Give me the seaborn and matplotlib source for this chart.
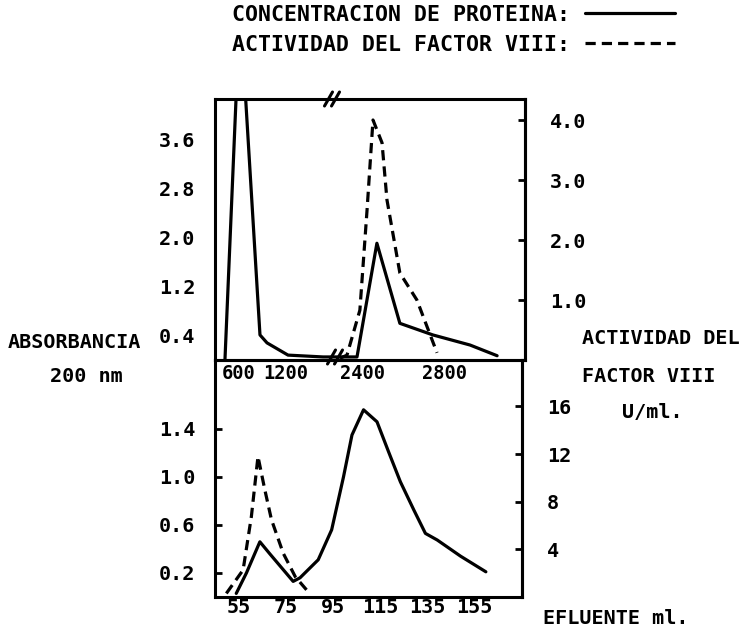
import seaborn as sns
import numpy as np
import matplotlib.pyplot as plt
from matplotlib.ticker import FormatStrFormatter

# upper panel: effluent (ml) on a broken axis
prot_top_left_ml = [421, 613, 868, 958, 1226, 1673, 1800]
prot_top_left_abs = [0.0, 5.8, 0.41, 0.28, 0.08, 0.05, 0.05]
prot_top_right_ml = [2254, 2302, 2371, 2468, 2580, 2741, 2922, 3054]
prot_top_right_abs = [0.05, 0.05, 0.05, 1.91, 0.6, 0.41, 0.245, 0.07]
f8_top_ml = [2288, 2322, 2385, 2420, 2449, 2493, 2517, 2580, 2663, 2761]
f8_top_act = [0.03, 0.08, 0.83, 2.5, 4.0, 3.62, 2.67, 1.45, 1.0, 0.12]

# lower panel
prot_bot_ml = [54, 58.3, 64, 68.2, 78.1, 81, 88.7, 94.4, 99.4, 103, 107.9,
               113.6, 118.5, 123.5, 129.2, 134.1, 139.1, 149, 159.7]
prot_bot_abs = [0.03, 0.2, 0.46, 0.36, 0.13, 0.16, 0.31, 0.56, 1.0, 1.35, 1.56,
                1.46, 1.21, 0.96, 0.725, 0.53, 0.475, 0.34, 0.21]
f8_bot_ml = [49.8, 56.9, 60.4, 63.2, 66.1, 68.9, 73.9, 79, 83.8]
f8_bot_act = [0.3, 2.27, 6.75, 11.8, 9.0, 6.5, 3.67, 1.7, 0.59]

top_left_xticks = [600, 1200]
top_right_xticks = [2400, 2800]
top_abs_ticks = [0.4, 1.2, 2.0, 2.8, 3.6]
top_act_ticks = [1.0, 2.0, 3.0, 4.0]
bot_xticks = [55, 75, 95, 115, 135, 155]
bot_abs_ticks = [0.2, 0.6, 1.0, 1.4]
bot_act_ticks = [4, 8, 12, 16]

sns.set_style("white")
plt.rcParams['font.family'] = ['DejaVu Sans Mono']
plt.rcParams['font.weight'] = 'bold'
plt.rcParams['text.color'] = 'black'
plt.rcParams['xtick.color'] = 'black'
plt.rcParams['ytick.color'] = 'black'
FS = 14.5
LW = 2.3
DASH = (0, (3.2, 1.9))

W, H = 750, 631
fig = plt.figure(figsize=(W / 100, H / 100), dpi=100)
fig.patch.set_facecolor('white')


def box(l, t, r, b):
    return [l / W, 1 - b / H, (r - l) / W, (b - t) / H]


ax_b = fig.add_axes(box(215, 360, 522, 597))
ax_b2 = ax_b.twinx()
ax_tl = fig.add_axes(box(215, 99, 333, 360))
ax_tr = fig.add_axes(box(333, 99, 525, 360))
ax_tr2 = ax_tr.twinx()

for a in [ax_b, ax_b2, ax_tl, ax_tr, ax_tr2]:
    a.patch.set_visible(False)
    for s in a.spines.values():
        s.set_linewidth(2.2)
        s.set_color('black')
    a.tick_params(direction='in', length=5, width=2, labelsize=FS,
                  colors='black', labelcolor='black')

# upper panel curves
sns.lineplot(x=prot_top_left_ml, y=prot_top_left_abs, ax=ax_tl, color='black',
             lw=LW, sort=False, estimator=None)
sns.lineplot(x=prot_top_right_ml, y=prot_top_right_abs, ax=ax_tr, color='black',
             lw=LW, sort=False, estimator=None)
sns.lineplot(x=f8_top_ml, y=f8_top_act, ax=ax_tr2, color='black',
             lw=LW, linestyle=DASH, sort=False, estimator=None)

ax_tl.set_xlim(294, 1800)
ax_tr.set_xlim(2254, 3190)
ax_tl.set_ylim(0, 4.27)
ax_tr.set_ylim(0, 4.27)
ax_tr2.set_ylim(0, 4.35)

ax_tl.spines['right'].set_visible(False)
ax_tr.spines['left'].set_visible(False)
for s in ['top', 'left', 'bottom']:
    ax_tr2.spines[s].set_visible(False)

ax_tl.set_xticks(top_left_xticks)
ax_tr.set_xticks(top_right_xticks)
ax_tl.set_yticks(top_abs_ticks)
ax_tl.yaxis.set_major_formatter(FormatStrFormatter('%.1f'))
ax_tr.set_yticks([])
ax_tr2.set_yticks(top_act_ticks)
ax_tr2.yaxis.set_major_formatter(FormatStrFormatter('%.1f'))
ax_tl.tick_params(axis='x', pad=3, labelsize=13.5)
ax_tr.tick_params(axis='x', pad=3, labelsize=13.5)
ax_tl.tick_params(axis='y', pad=14)
ax_tr2.tick_params(axis='y', pad=18)

# lower panel curves
sns.lineplot(x=prot_bot_ml, y=prot_bot_abs, ax=ax_b, color='black',
             lw=LW, sort=False, estimator=None)
sns.lineplot(x=f8_bot_ml, y=f8_bot_act, ax=ax_b2, color='black',
             lw=LW, linestyle=DASH, sort=False, estimator=None)
ax_b.set_xlim(45, 175)
ax_b.set_ylim(0, 1.975)
ax_b2.set_ylim(0, 19.9)
ax_b.set_xticks(bot_xticks)
ax_b.set_yticks(bot_abs_ticks)
ax_b.yaxis.set_major_formatter(FormatStrFormatter('%.1f'))
ax_b2.set_yticks(bot_act_ticks)
ax_b.tick_params(axis='x', pad=1)
ax_b.tick_params(axis='y', pad=14)
ax_b2.tick_params(axis='y', pad=18)
for s in ['top', 'left', 'bottom']:
    ax_b2.spines[s].set_visible(False)

for a in [ax_b, ax_b2, ax_tl, ax_tr, ax_tr2]:
    a.set_xlabel('')
    a.set_ylabel('')

# axis break marks "//"
for cx, cy in [(332, 99), (335, 357)]:
    for off in (-3.5, 3.5):
        fig.add_artist(plt.Line2D([(cx + off - 4) / W, (cx + off + 4) / W],
                                  [1 - (cy + 7) / H, 1 - (cy - 7) / H],
                                  color='black', lw=2.2))

# legend at the top
h_solid = ax_tr.get_lines()[0]
h_dash = ax_tr2.get_lines()[0]
fig.legend([h_solid, h_dash],
           ['CONCENTRACION DE PROTEINA:', 'ACTIVIDAD DEL FACTOR VIII:'],
           loc='upper left', bbox_to_anchor=(232 / W, 1 - 5 / H),
           frameon=False, markerfirst=False, handlelength=4.2,
           handletextpad=0.7, labelspacing=0.45, borderpad=0,
           borderaxespad=0, prop={'size': 15.5, 'weight': 'bold'})

# axis titles
fig.text(8 / W, 1 - 342 / H, 'ABSORBANCIA', fontsize=FS, ha='left', va='center')
fig.text(50 / W, 1 - 377 / H, '200 nm', fontsize=FS, ha='left', va='center')
fig.text(582 / W, 1 - 338 / H, 'ACTIVIDAD DEL', fontsize=FS, ha='left', va='center')
fig.text(582 / W, 1 - 376 / H, 'FACTOR VIII', fontsize=FS, ha='left', va='center')
fig.text(622 / W, 1 - 412 / H, 'U/ml.', fontsize=FS, ha='left', va='center')
fig.text(543 / W, 1 - 618 / H, 'EFLUENTE ml.', fontsize=FS, ha='left', va='center')

fig.savefig('out.png', dpi=100)
